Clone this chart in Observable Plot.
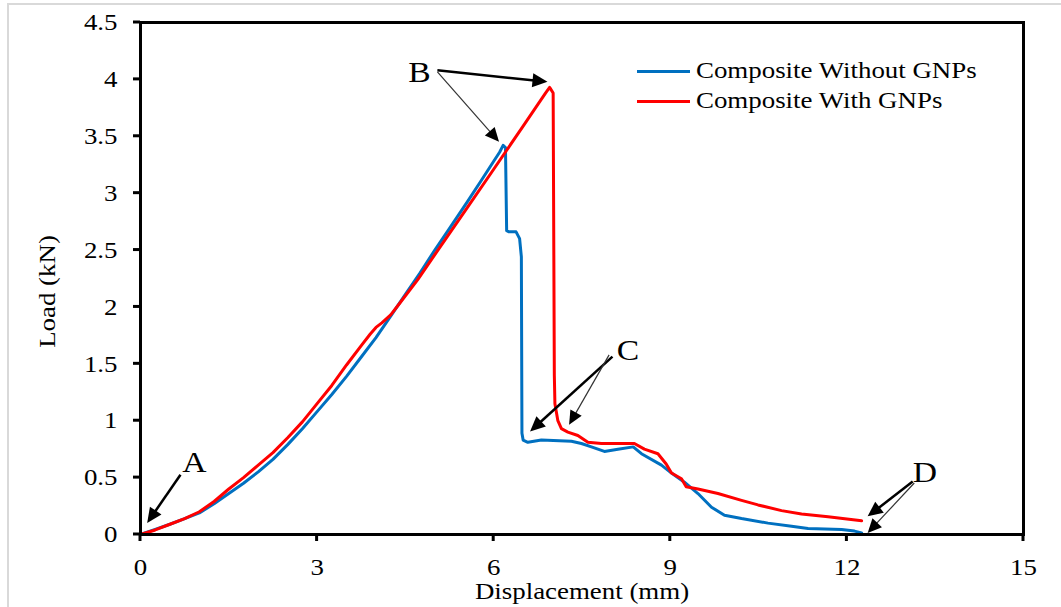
<!DOCTYPE html>
<html>
<head>
<meta charset="utf-8">
<script src="https://cdn.jsdelivr.net/npm/d3@7"></script>
<script src="https://cdn.jsdelivr.net/npm/@observablehq/plot@0.6"></script>
<style>
  html, body { margin: 0; padding: 0; background: white; }
  #wrap { position: relative; width: 1061px; height: 607px; overflow: hidden; }
  #border { position: absolute; left: 7px; top: 3px; width: 1100px; height: 700px;
            border-left: 2px solid #d9d9d9; border-top: 2px solid #d9d9d9; pointer-events: none; }
  .leg { position: absolute; left: 637px; font-family: 'Liberation Serif', 'Times New Roman', serif;
         font-size: 24px; line-height: 30px; color: #000; white-space: nowrap; }
  .leg span.sw { display: inline-block; width: 53px; height: 3px; vertical-align: middle; margin-right: 6px; position: relative; top: -1px; }
  .leg span.tx { display: inline-block; transform: scaleX(1.12); transform-origin: left center; }
</style>
</head>
<body>
<div id="wrap"><div id="border"></div></div>
<script>
// ---- Data ----
const seriesNames = ["Composite Without GNPs", "Composite With GNPs"];
const seriesColors = ["#0070C0", "#FF0000"];

const blueX = [0, 0.25, 0.5, 0.75, 1.0, 1.25, 1.5, 1.75, 2.0, 2.25, 2.5, 2.75, 3.0, 3.25, 3.5, 3.75, 4.0, 4.25, 4.5, 4.75, 5.0, 5.25, 5.56, 5.8, 6.0, 6.1, 6.16, 6.2, 6.22, 6.26, 6.38, 6.44, 6.47, 6.48, 6.5, 6.58, 6.81, 7.32, 7.49, 7.66, 7.88, 8.11, 8.37, 8.51, 8.85, 9.02, 9.24, 9.47, 9.7, 9.92, 10.21, 10.66, 11.06, 11.34, 11.91, 12.13, 12.25];
const blueY = [0, 0.045, 0.09, 0.14, 0.19, 0.27, 0.36, 0.45, 0.55, 0.66, 0.79, 0.93, 1.08, 1.23, 1.39, 1.56, 1.73, 1.92, 2.11, 2.30, 2.50, 2.69, 2.93, 3.12, 3.28, 3.36, 3.42, 3.40, 2.67, 2.66, 2.66, 2.60, 2.44, 0.89, 0.83, 0.81, 0.83, 0.82, 0.80, 0.77, 0.73, 0.75, 0.77, 0.71, 0.61, 0.54, 0.46, 0.36, 0.24, 0.17, 0.14, 0.10, 0.073, 0.053, 0.044, 0.03, 0.014];

const redX = [0, 0.25, 0.5, 0.75, 1.0, 1.25, 1.5, 1.75, 2.0, 2.25, 2.5, 2.75, 3.0, 3.25, 3.5, 3.75, 3.9, 4.0, 4.1, 4.25, 4.4, 4.71, 5.0, 5.56, 6.0, 6.5, 6.88, 6.95, 7.01, 7.03, 7.04, 7.09, 7.15, 7.26, 7.43, 7.6, 7.83, 8.39, 8.56, 8.79, 8.93, 9.02, 9.19, 9.27, 9.47, 9.81, 10.21, 10.49, 10.89, 11.23, 11.68, 12.25];
const redY = [0, 0.04, 0.09, 0.14, 0.20, 0.29, 0.40, 0.50, 0.61, 0.72, 0.85, 0.99, 1.15, 1.31, 1.49, 1.66, 1.76, 1.82, 1.86, 1.93, 2.03, 2.24, 2.46, 2.88, 3.21, 3.59, 3.88, 3.93, 3.88, 1.40, 1.15, 1.00, 0.93, 0.90, 0.87, 0.81, 0.80, 0.80, 0.75, 0.71, 0.62, 0.54, 0.49, 0.42, 0.40, 0.36, 0.30, 0.26, 0.21, 0.18, 0.155, 0.12];

const xTicks = [0, 3, 6, 9, 12, 15];
const yTicks = [0, 0.5, 1, 1.5, 2, 2.5, 3, 3.5, 4, 4.5];

// Annotation letters and arrows (data coordinates)
const letterText = ["A", "B", "C", "D"];
const letterX = [0.915, 4.739, 8.281, 13.323];
const letterY = [0.637, 4.062, 1.618, 0.550];

const arrowX1 = [0.688, 5.052, 5.052, 8.026, 7.969, 13.126, 13.153];
const arrowY1 = [0.521, 4.076, 4.062, 1.559, 1.574, 0.462, 0.448];
const arrowX2 = [0.122, 6.922, 6.099, 6.626, 7.289, 12.361, 12.361];
const arrowY2 = [0.097, 3.974, 3.447, 0.901, 0.960, 0.155, 0.009];
const arrowHeavy = [true, true, false, true, false, true, false];

// ---- Build tables ----
const lineData = [];
blueX.forEach((x, i) => lineData.push({series: seriesNames[0], x, y: blueY[i]}));
redX.forEach((x, i) => lineData.push({series: seriesNames[1], x, y: redY[i]}));
const letters = letterText.map((t, i) => ({t, x: letterX[i], y: letterY[i]}));
const arrows = arrowX1.map((_, i) => ({x1: arrowX1[i], y1: arrowY1[i], x2: arrowX2[i], y2: arrowY2[i], heavy: arrowHeavy[i]}));

const font = "'Liberation Serif', 'Times New Roman', serif";
const stretch = 1.12;

function arrowMark(index, scales) {
  const sx = scales.x, sy = scales.y;
  const g = d3.create("svg:g").attr("aria-label", "arrows");
  for (const a of arrows) {
    const x1 = sx(a.x1), y1 = sy(a.y1), x2 = sx(a.x2), y2 = sy(a.y2);
    const dx = x2 - x1, dy = y2 - y1, L = Math.hypot(dx, dy);
    const ux = dx / L, uy = dy / L, px = -uy, py = ux;
    const hl = a.heavy ? 15 : 14, hw = a.heavy ? 7 : 6.5;
    const bx = x2 - ux * hl, by = y2 - uy * hl;
    g.append("line")
      .attr("x1", x1).attr("y1", y1).attr("x2", bx + ux * 2).attr("y2", by + uy * 2)
      .attr("stroke", a.heavy ? "#000" : "#333")
      .attr("stroke-width", a.heavy ? 2.5 : 1.2);
    g.append("polygon")
      .attr("points", `${x2},${y2} ${bx + px * hw},${by + py * hw} ${bx - px * hw},${by - py * hw}`)
      .attr("fill", "#000");
  }
  return g.node();
}

function tickMarks(index, scales) {
  const sx = scales.x, sy = scales.y;
  const g = d3.create("svg:g").attr("aria-label", "ticks").attr("stroke", "#000").attr("stroke-width", 3);
  const x0 = sx(xTicks[0]), y0 = sy(yTicks[0]);
  for (const t of xTicks) g.append("line").attr("x1", sx(t)).attr("x2", sx(t)).attr("y1", y0).attr("y2", y0 + 7);
  for (const t of yTicks) g.append("line").attr("x1", x0 - 7).attr("x2", x0).attr("y1", sy(t)).attr("y2", sy(t));
  return g.node();
}

const chart = Plot.plot({
  width: 1061,
  height: 607,
  marginLeft: 140,
  marginRight: 38,
  marginTop: 22,
  marginBottom: 73,
  style: {fontFamily: font, fontSize: "24px", color: "#000", background: "transparent", overflow: "visible"},
  x: {domain: [0, 15], ticks: xTicks, tickFormat: d => String(d), tickSize: 0, tickPadding: 23, label: null},
  y: {domain: [0, 4.5], ticks: yTicks, tickFormat: d => String(d), tickSize: 0, tickPadding: 23, label: null},
  color: {domain: seriesNames, range: seriesColors},
  marks: [
    Plot.line(lineData, {x: "x", y: "y", z: "series", stroke: "series", strokeWidth: 3, curve: "linear", strokeLinejoin: "round"}),
    Plot.frame({stroke: "#000", strokeWidth: 3}),
    tickMarks,
    arrowMark,
    Plot.text(letters, {x: "x", y: "y", text: "t", fontSize: 30, fontFamily: font, fill: "#000"}),
    Plot.text(["Load (kN)"], {frameAnchor: "left", textAnchor: "middle", lineAnchor: "middle", text: d => d, rotate: -90, dx: -93, dy: 13, fontSize: 24, fontFamily: font, fill: "#000"}),
    Plot.text(["Displacement (mm)"], {frameAnchor: "bottom", textAnchor: "middle", lineAnchor: "middle", text: d => d, dy: 57, fontSize: 24, fontFamily: font, fill: "#000"})
  ]
});

chart.style.position = "absolute";
chart.style.left = "0px";
chart.style.top = "0px";
const wrap = document.getElementById("wrap");
wrap.appendChild(chart);

// horizontal stretch of text to match the reference's wide serif
chart.querySelectorAll("text").forEach(t => {
  const spans = t.querySelectorAll("tspan");
  const targets = spans.length ? Array.from(spans) : [t];
  targets.forEach(el => {
    const len = el.getComputedTextLength();
    if (len > 0) {
      el.setAttribute("textLength", len * stretch);
      el.setAttribute("lengthAdjust", "spacingAndGlyphs");
    }
  });
});

// legend
seriesNames.forEach((name, i) => {
  const d = document.createElement("div");
  d.className = "leg";
  d.style.top = (55 + i * 30) + "px";
  const sw = document.createElement("span");
  sw.className = "sw";
  sw.style.background = seriesColors[i];
  const tx = document.createElement("span");
  tx.className = "tx";
  tx.textContent = name;
  d.appendChild(sw);
  d.appendChild(tx);
  wrap.appendChild(d);
});
</script>
</body>
</html>
